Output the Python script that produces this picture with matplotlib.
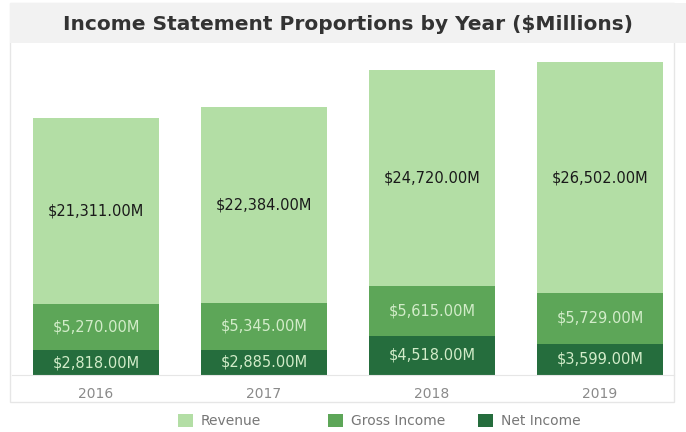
import matplotlib.pyplot as plt
from matplotlib.patches import Rectangle, Patch

years = ['2016', '2017', '2018', '2019']
net_income = [2818, 2885, 4518, 3599]
gross_income = [5270, 5345, 5615, 5729]
revenue = [21311, 22384, 24720, 26502]

series_names = ['Revenue', 'Gross Income', 'Net Income']
colors = {'Revenue': '#b3dea5', 'Gross Income': '#5da658', 'Net Income': '#256d3d'}
label_colors = {'Revenue': '#1a1a1a', 'Gross Income': '#d2ecc9', 'Net Income': '#d2ecc9'}

W, H = 686, 432
fig = plt.figure(figsize=(W / 100, H / 100), dpi=100)
fig.patch.set_facecolor('white')

# panel frame and grey title band, kept behind the axes
fig.patches.append(Rectangle((10 / W, 1 - 402 / H), 664 / W, 399 / H, transform=fig.transFigure,
                             facecolor='white', edgecolor='#e6e6e6', lw=1, zorder=-10))
fig.patches.append(Rectangle((10 / W, 1 - 43 / H), 676 / W, 40 / H, transform=fig.transFigure,
                             facecolor='#f2f2f2', edgecolor='none', zorder=-9))
fig.text(348 / W, 1 - 25 / H, 'Income Statement Proportions by Year ($Millions)',
         ha='center', va='center', fontsize=14.5, fontweight='bold', color='#333333')

ax = fig.add_axes([12 / W, 1 - 375 / H, 672 / W, 330 / H])
ax.patch.set_alpha(0)

x = range(len(years))
bottom = [0] * len(years)
stack = [('Net Income', net_income), ('Gross Income', gross_income), ('Revenue', revenue)]
for name, vals in stack:
    ax.bar(x, vals, width=0.75, bottom=bottom, color=colors[name], linewidth=0)
    for i, v in enumerate(vals):
        ax.text(i, bottom[i] + v / 2, f'${v:,.2f}M', ha='center', va='center',
                fontsize=10.5, color=label_colors[name])
    bottom = [b + v for b, v in zip(bottom, vals)]

ax.set_xlim(-0.5, 3.5)
ax.set_ylim(0, 37750)
ax.set_xticks(list(x))
ax.set_xticklabels(years, fontsize=10, color='#8a8a8a')
ax.tick_params(axis='x', length=0, pad=9)
ax.set_yticks([])
for side in ['top', 'left', 'right']:
    ax.spines[side].set_visible(False)
ax.spines['bottom'].set_color('#e6e6e6')
ax.spines['bottom'].set_bounds(-0.5, 3.44)

# legend entries at fixed spacing
for k, name in enumerate(series_names):
    fig.legend(handles=[Patch(facecolor=colors[name], edgecolor='none', label=name)],
               loc='center left', bbox_to_anchor=((165 + 150 * k) / W, 1 - 421 / H),
               frameon=False, fontsize=10, handlelength=1.1, handleheight=1.1,
               handletextpad=0.6, labelcolor='#777777')

fig.savefig('out.png', dpi=100)
